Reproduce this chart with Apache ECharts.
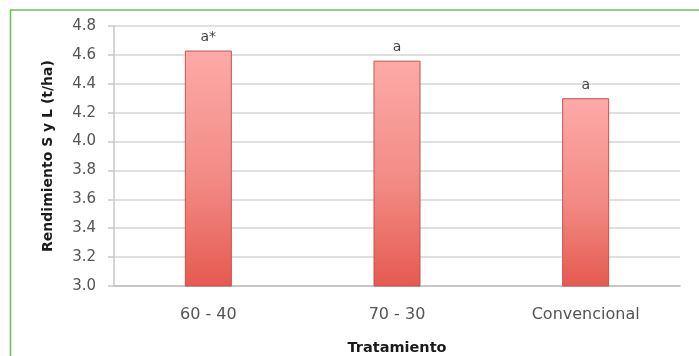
<!DOCTYPE html>
<html>
<head>
<meta charset="utf-8">
<script src="https://cdn.jsdelivr.net/npm/echarts@6/dist/echarts.min.js"></script>
<style>
  html, body { margin: 0; padding: 0; background: #fff; }
  #chart { width: 699px; height: 356px; }
</style>
</head>
<body>
<div id="chart"></div>
<script>
// Treatments and yield (t/ha)
const categories = ['60 - 40', '70 - 30', 'Convencional'];
const yieldValues = [4.63, 4.56, 4.30];
const groupLetters = ['a*', 'a', 'a'];

const chart = echarts.init(document.getElementById('chart'), null, { renderer: 'canvas' });

const barFill = new echarts.graphic.LinearGradient(0, 0, 0, 1, [
  { offset: 0, color: '#fdaaa7' },
  { offset: 0.55, color: '#f28a84' },
  { offset: 1, color: '#e55a50' }
]);

const FONT = 'DejaVu Sans';

chart.setOption({
  animation: false,
  backgroundColor: '#ffffff',
  grid: { left: 114, right: 19, top: 26, bottom: 70, containLabel: false, outerBoundsMode: 'none' },
  graphic: [
    {
      type: 'polyline',
      silent: true,
      shape: { points: [[10.5, 356], [10.5, 10], [699, 10]] },
      style: { stroke: '#6cc35c', lineWidth: 1.6, fill: null }
    }
  ],
  xAxis: {
    type: 'category',
    data: categories,
    name: 'Tratamiento',
    nameLocation: 'middle',
    nameGap: 55,
    nameTextStyle: { fontFamily: FONT, fontWeight: 'bold', fontSize: 14.5, color: '#1a1a1a' },
    axisLine: { lineStyle: { color: '#bfbfbf', width: 1.5 } },
    axisTick: { show: false },
    axisLabel: { margin: 21, fontFamily: FONT, fontSize: 16, color: '#555555' }
  },
  yAxis: {
    type: 'value',
    min: 3.0,
    max: 4.8,
    interval: 0.2,
    name: 'Rendimiento S y L (t/ha)',
    nameLocation: 'middle',
    nameGap: 59,
    nameTextStyle: { fontFamily: FONT, fontWeight: 'bold', fontSize: 14, color: '#1a1a1a' },
    axisLine: { show: true, lineStyle: { color: '#c8c8c8', width: 1.5 } },
    axisTick: { show: true, length: 6, lineStyle: { color: '#c8c8c8', width: 1.5 } },
    axisLabel: {
      margin: 18,
      fontFamily: FONT,
      fontSize: 15,
      color: '#555555',
      formatter: v => v.toFixed(1)
    },
    splitLine: { lineStyle: { color: '#d6d6d6', width: 1.5 } }
  },
  series: [
    {
      type: 'bar',
      data: yieldValues,
      barWidth: 47,
      itemStyle: { color: barFill, borderColor: '#c5524c', borderWidth: 1 },
      label: {
        show: true,
        position: 'top',
        distance: 6,
        fontFamily: FONT,
        fontSize: 14,
        color: '#444444',
        formatter: p => groupLetters[p.dataIndex]
      }
    }
  ]
});
</script>
</body>
</html>
